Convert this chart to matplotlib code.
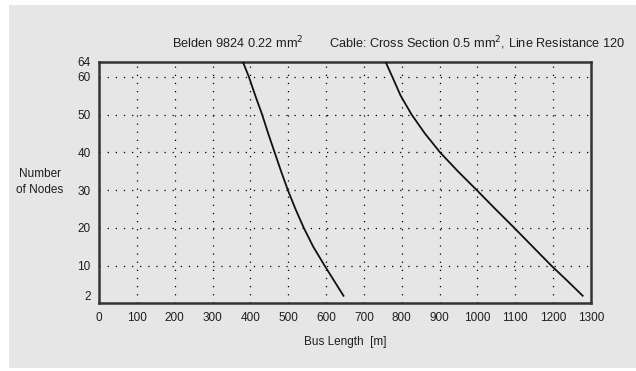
import matplotlib.pyplot as plt
from matplotlib.patches import Rectangle

nodes = [64, 60, 55, 50, 45, 40, 35, 30, 25, 20, 15, 10, 6, 2]
belden_len = [380, 396, 413, 431, 447, 464, 481, 499, 519, 541, 566, 596, 621, 646]
cable_len = [757, 775, 797, 826, 861, 901, 948, 998, 1047, 1097, 1146, 1195, 1237, 1278]

x_ticks = list(range(0, 1301, 100))
y_ticks = [2, 10, 20, 30, 40, 50, 60, 64]
grid_x = list(range(100, 1201, 100))
grid_y = [10, 20, 30, 40, 50, 60]

plt.rcParams['font.family'] = ['Liberation Sans', 'DejaVu Sans']
bg = '#e6e6e6'
fg = '#1e1e1e'

fig = plt.figure(figsize=(6.36, 3.71), dpi=100)
fig.patch.set_facecolor('white')
fig.patches.append(Rectangle((9 / 636, 3 / 371), 627 / 636, 363 / 371,
                             transform=fig.transFigure, facecolor=bg,
                             edgecolor='none', zorder=-10))

ax = fig.add_axes([99 / 636, 1 - 303.3 / 371, 492 / 636, 241.6 / 371])
ax.set_facecolor(bg)
ax.set_xlim(0, 1300)
ax.set_ylim(0, 64)

for gx in grid_x:
    ax.plot([gx, gx], [0, 64], color='k', lw=0.9, dashes=(1, 5.5), zorder=1)
for gy in grid_y:
    ax.plot([0, 1300], [gy, gy], color='k', lw=0.9, dashes=(1, 5.5), zorder=1)

ax.plot(belden_len, nodes, color='#111111', lw=1.3, zorder=3)
ax.plot(cable_len, nodes, color='#111111', lw=1.3, zorder=3)

ax.set_xticks(x_ticks)
ax.set_yticks(y_ticks)
ax.tick_params(length=0, labelsize=8.5, colors=fg, pad=6)
for s in ax.spines.values():
    s.set_linewidth(1.8)
    s.set_color('#333333')

ax.set_xlabel('Bus Length  [m]', fontsize=8.5, color=fg, labelpad=9)
fig.text(40 / 636, 1 - 182 / 371, 'Number\nof Nodes', ha='center', va='center',
         fontsize=8.5, color=fg, linespacing=1.4)

fig.text(172 / 636, 1 - 43 / 371, 'Belden 9824 0.22 mm$^{2}$', ha='left',
         va='center', fontsize=9.2, color=fg)
fig.text(625 / 636, 1 - 43 / 371, 'Cable: Cross Section 0.5 mm$^{2}$, Line Resistance 120',
         ha='right', va='center', fontsize=9.2, color=fg)

fig.savefig('out.png', dpi=100)
